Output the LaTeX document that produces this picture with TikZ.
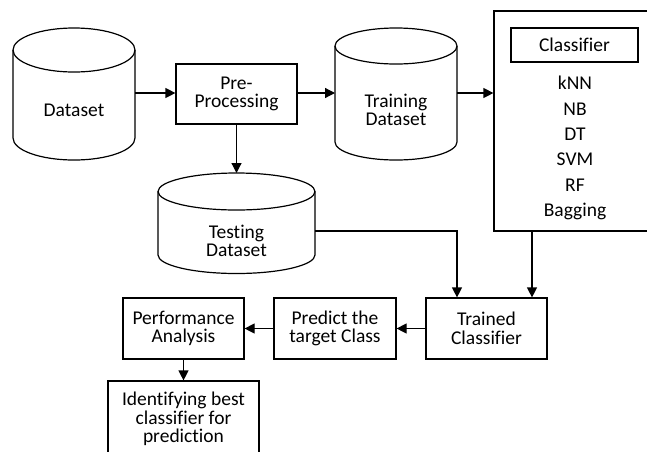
\documentclass[tikz,border=0pt]{standalone}
\usepackage{fontspec}
\setmainfont{Carlito}[Ligatures={NoCommon}]
\usetikzlibrary{arrows.meta}
\newcommand\mycyl[5]{%
  \draw[lw] (#1-#4,#2) -- (#1-#4,#3) arc[start angle=180,end angle=360,x radius=#4pt,y radius=#5pt] -- (#1+#4,#2);
  \draw[lw] (#1,#2) ellipse[x radius=#4pt, y radius=#5pt];}
\begin{document}
\begin{tikzpicture}[x=1pt,y=1pt,
  lw/.style={line width=1.2pt},
  box/.style={draw, line width=1.2pt, rectangle, inner sep=0pt, align=center, font=\fontsize{19.5}{18.7}\selectfont},
  txt/.style={align=center, inner sep=0pt, font=\fontsize{19.5}{18.7}\selectfont},
  area/.style={inner sep=0pt, outer sep=0pt},
  arr/.style={line width=1.2pt, -{Triangle[length=10pt,width=10pt]}}
]
\useasboundingbox (0,0) rectangle (647,-451);
% cylinders
\mycyl{74}{-50}{-138}{61}{22}
\mycyl{396}{-46}{-142}{61}{18}
\mycyl{236.5}{-191.5}{-255}{78.5}{18.5}
\node[area, minimum width=122pt, minimum height=132pt] (ds) at (74,-94) {};
\node[area, minimum width=122pt, minimum height=134pt] (tr) at (396,-95) {};
\node[area, minimum width=157pt, minimum height=100pt] (te) at (236.5,-223) {};
\node[txt] (dsT) at (74,-110) {Dataset};
\node[txt] (trT) at (396,-110) {Training\\Dataset};
\node[txt] (teT) at (236.5,-241) {Testing\\Dataset};
% boxes
\node[box, minimum width=121pt, minimum height=60pt] (pp) at (236.5,-94) {Pre-\\Processing};
\node[box, minimum width=162pt, minimum height=220pt] (cls) at (575,-121) {};
\node[box, minimum width=127pt, minimum height=34pt] (clsT) at (574.5,-45) {Classifier};
\node[txt, font=\fontsize{19.5}{25.3}\selectfont] (algs) at (575,-148) {kNN\\NB\\DT\\SVM\\RF\\Bagging};
\node[box, minimum width=121pt, minimum height=61pt] (trn) at (486.5,-328.5) {Trained\\Classifier};
\node[box, minimum width=122pt, minimum height=61pt] (pr) at (335,-328.5) {Predict the\\target Class};
\node[box, minimum width=121pt, minimum height=61pt] (pa) at (183.5,-328.5) {Performance\\Analysis};
\node[box, minimum width=151pt, minimum height=76pt] (id) at (183.5,-419) {Identifying best\\classifier for\\prediction};
% helper coordinates
\coordinate (y93) at (0,-93);
\coordinate (c1) at (457,-231);
\coordinate (c2) at (532,0);
% connectors
\draw[arr] (ds.east|-y93) -- (pp.west|-y93);
\draw[arr] (pp.east|-y93) -- (tr.west|-y93);
\draw[arr] (tr.east|-y93) -- (cls.west|-y93);
\draw[arr] (pp.south) -- (te.north);
\draw[arr] (te.east|-c1) -| (trn.north-|c1);
\draw[arr] (cls.south-|c2) -- (trn.north-|c2);
\draw[arr] (trn.west) -- (pr.east);
\draw[arr] (pr.west) -- (pa.east);
\draw[arr] (pa.south) -- (id.north);
\end{tikzpicture}
\end{document}
